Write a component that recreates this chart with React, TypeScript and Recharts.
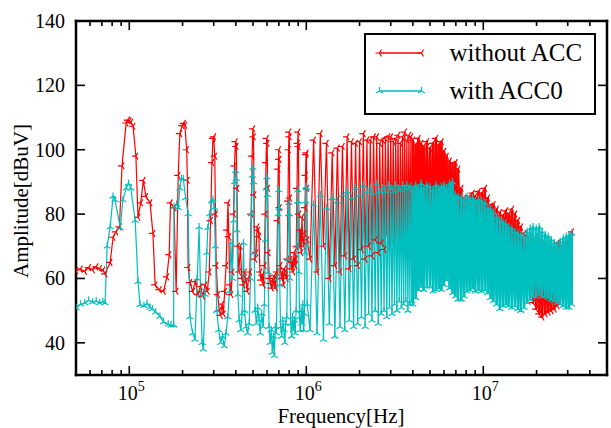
import React from 'react';
import { ComposedChart, Line, XAxis, YAxis, Legend } from 'recharts';

const RED = '#ff0000';
const CYAN = '#00bfbf';
const FONT = '"Liberation Serif", "Times New Roman", Times, serif';

// ---- "without ACC" (sparse part), frequency in kHz ----
const redFreqKHz = [
  50, 53, 56, 59, 62, 65, 68, 71, 73, 78, 81, 84, 88, 91, 96, 98, 100, 102, 105, 109,
  112, 116, 120, 124, 131, 136, 140, 148, 156, 163, 168, 171, 179, 184, 189, 193, 199, 203, 206, 211,
  213, 215, 220, 228, 236, 244, 252, 260, 268, 276, 283, 288, 293, 297, 300, 304, 307, 310, 316, 322,
  328, 334, 340, 346, 352, 357, 361, 365, 370, 376, 382, 388, 393, 398, 402, 406, 410, 416, 424, 432,
  440, 448, 456, 464, 472, 480, 488, 494, 499, 503, 507, 512, 520, 527, 533, 540, 547, 555, 563, 571,
  579, 586, 592, 597, 601, 605, 610, 618, 627, 636, 645, 654, 663, 672, 681, 688, 694, 699, 702, 706,
  712, 722, 732, 742, 752, 762, 772, 780, 788, 794, 799, 802, 806, 812, 822, 832, 842, 852, 862, 870,
  878, 886, 893, 899, 903, 908, 915, 925, 935, 945, 955, 965, 975, 983, 990, 996, 1001, 1006, 1012,
  1050, 1100, 1150, 1200, 1250, 1300, 1350, 1400, 1450, 1500, 1550, 1600, 1650, 1700, 1750, 1800,
  1850, 1900, 1950, 2000, 2050, 2100, 2150, 2200, 2250, 2300, 2350, 2400, 2450, 2500, 2550, 2600,
  2650, 2700, 2750, 2800, 2850, 2900, 2950, 3000, 3050, 3100, 3150, 3200, 3250, 3300, 3350, 3400,
  3450, 3500, 3550, 3600, 3650, 3700, 3750, 3800, 3850, 3900, 3950,
];
const redAmp = [
  62.4, 62.9, 62.2, 63.4, 62.7, 63.6, 63.1, 62.6, 61.4, 65, 72.8, 74.5, 76, 95, 108.3, 109.2, 109, 108.5, 107.3, 98,
  79, 83.5, 90.5, 85.5, 83.5, 74, 58, 56.5, 56, 60.5, 67.4, 83.5, 82, 56, 92, 105, 107.5, 108.2, 107.6, 100,
  90.5, 63.4, 58.7, 56, 59, 55, 57.5, 54.5, 58, 56, 62, 78, 96, 103.5, 104, 98, 80, 64, 55, 50,
  48.5, 52, 49, 56, 64, 75, 83.5, 73, 58, 55, 62, 80, 95, 102.5, 101, 88, 70, 62, 70, 60,
  58, 62, 59, 56, 60, 62, 80, 98, 106.5, 104, 86, 66, 68, 76, 75, 73, 62, 59.5, 61, 58,
  64, 80, 96, 103.5, 102, 88, 68, 60, 58.5, 57, 60, 58, 61, 57, 62, 78, 94, 100, 97, 82,
  64, 60, 62, 58, 63, 61, 60, 66, 84, 100, 105.5, 104, 85, 66, 63, 65, 62, 68, 64, 66,
  70, 88, 102, 105.5, 101, 80, 70, 75, 68, 79, 72, 70, 74, 82, 92, 98.5, 99, 88, 72,
  66, 103, 62, 105, 70, 102, 60, 99, 64, 100.5, 62, 101, 67, 104, 63, 102.5,
  66, 102, 64, 102.5, 69, 105, 66, 103, 70, 103, 67, 104, 72, 104, 68, 102,
  71, 103, 69, 103.5, 73, 104, 68, 104, 71, 102.5, 69, 103.5, 72, 104.5, 68, 102,
  71, 104, 69, 105.5, 70, 103, 68, 104.5, 70, 104, 69,
];

// ---- "with ACC0" (sparse part), frequency in kHz ----
const cyanFreqKHz = [
  50, 53, 56, 59, 62, 65, 68, 71, 73, 75, 78, 81, 83, 89, 92, 96, 99, 102, 108, 112,
  115, 121, 126, 131, 135, 141, 149, 156, 166, 172, 178, 179, 185, 189, 193, 197, 202, 208, 215, 220,
  228, 235, 242, 248, 253, 258, 262, 268, 274, 278, 285, 292, 297, 302, 306, 312, 320, 328, 336, 344,
  352, 360, 368, 375, 382, 389, 394, 399, 402, 406, 411, 418, 426, 434, 442, 448, 456, 466, 476, 484,
  490, 495, 499, 503, 508, 514, 523, 532, 541, 550, 560, 570, 580, 588, 594, 599, 603, 608, 616, 625,
  634, 643, 652, 660, 668, 677, 686, 693, 699, 703, 708, 716, 726, 736, 746, 756, 766, 776, 786, 794,
  799, 803, 808, 816, 826, 836, 846, 856, 866, 876, 886, 894, 899, 903, 908, 916, 926, 936, 946, 956,
  966, 976, 984, 992, 997, 1001, 1006, 1012,
  1050, 1100, 1150, 1200, 1250, 1300, 1350, 1400, 1450, 1500, 1550, 1600, 1650, 1700, 1750, 1800,
  1850, 1900, 1950, 2000, 2050, 2100, 2150, 2200, 2250, 2300, 2350, 2400, 2450, 2500, 2550, 2600,
  2650, 2700, 2750, 2800, 2850, 2900, 2950, 3000, 3050, 3100, 3150, 3200, 3250, 3300, 3350, 3400,
  3450, 3500, 3550, 3600, 3650, 3700, 3750, 3800, 3850, 3900, 3950,
];
const cyanAmp = [
  50.8, 52, 52.4, 53.2, 52.6, 53, 52.4, 52.8, 52.4, 70, 76, 85.5, 84.4, 75.7, 84.4, 88, 89.5, 88, 78, 59,
  51.8, 51.5, 52.2, 51, 50.5, 49.5, 48.2, 46.5, 45.8, 45.5, 45.5, 82.3, 83, 82, 88, 91, 91, 85, 80, 48,
  43, 41, 60, 76, 55, 40, 38, 55, 68, 75.7, 80, 84, 84.5, 82, 70, 50, 44, 40, 42, 39,
  43, 48, 56, 71, 60, 78, 90, 93.5, 91, 75, 55, 47, 44, 49, 71, 50, 45, 43, 46, 60,
  80, 92, 94.5, 90, 68, 50, 46, 51, 47, 43, 49, 45, 52, 72, 88, 91.5, 86, 62, 45, 40,
  44, 37, 42, 36, 45, 43, 60, 80, 87.5, 82, 58, 45, 42, 47, 44, 40, 46, 48, 66, 80,
  83.5, 80, 60, 46, 42, 48, 44, 47, 43, 50, 70, 84, 87.5, 84, 62, 48, 44, 50, 46, 52,
  44, 49, 68, 84, 88.5, 88, 70, 52,
  44, 83, 43, 86, 41, 82, 46, 85, 42, 84, 45, 86, 44, 87, 47, 85,
  45, 88, 46, 86, 48, 89, 45, 87, 49, 88, 47, 86.5, 50, 89.5, 46, 87,
  49, 88, 50, 87, 48, 89, 51, 88, 49, 87, 52, 89, 50, 88, 53, 87.5,
  51, 89, 52, 88, 53, 89, 50, 88, 52, 88.5, 53,
];

// ---- dense band above ~4 MHz: envelope of the spectrum, frequency in kHz ----
const denseFreqKHz = [
  4000, 4150, 4300, 4450, 4600, 4800, 5000, 5200, 5400, 5600, 5800, 6000, 6200, 6450, 6700, 6950,
  7200, 7500, 7800, 8100, 8400, 8700, 9000, 9400, 9800, 10200, 10600, 11000, 11400, 11900, 12400,
  12900, 13400, 13900, 14500, 15100, 15700, 16300, 17000, 17700, 18400, 19100, 19900, 20700, 21500,
  22400, 23300, 24200, 25200, 26200, 27200, 28300, 29400, 30500, 31600,
];
const redTop = [
  103, 101.5, 103.5, 102, 101, 102.5, 100.5, 102, 103.5, 101.5, 102.5, 99.5, 98, 96.5, 95.5, 96,
  94, 88, 85, 84.5, 85.5, 86.5, 85.5, 87, 86.5, 88, 85, 82.5, 83, 81.5, 80.5,
  79.5, 81, 80, 81.5, 80, 78, 76, 74, 73.5, 74, 73, 74, 72.5, 72,
  71.5, 70.5, 70, 69.5, 71, 70.5, 71.5, 72, 73, 74.5,
];
const redBottom = [
  68, 70, 69, 71, 68, 70, 69, 71, 68, 70, 69, 70, 68, 69, 70, 68,
  67, 68, 66, 68, 67, 68, 66, 67, 68, 66, 65, 66, 64, 65, 63,
  62, 63, 61, 62, 60, 59, 60, 58, 57, 56, 52.5, 50.5, 49, 48,
  49, 49.5, 50, 50.5, 51.5, 54, 55, 55, 55, 56,
];
const cyanTop = [
  87.5, 89, 88, 89.5, 88, 89, 88.5, 87.5, 89, 88, 88.5, 89, 88, 89.5, 90, 86,
  85.5, 85, 84.5, 85.5, 84.5, 85, 84, 84.5, 84, 83.5, 82, 81.5, 80.5, 79, 78,
  77.5, 77, 76, 75.5, 74.5, 74, 73.5, 73, 74.5, 75.5, 76, 75.5, 76, 74.5,
  73.5, 73, 72, 71, 70.5, 71.5, 72.5, 73, 73.5, 74,
];
const cyanBottom = [
  52, 54, 56.5, 57.5, 56.5, 57.5, 57.5, 56, 56.5, 57, 56.5, 58, 59.5, 57, 55.5, 54.5,
  53.5, 53.5, 54.5, 56, 56.5, 57, 56, 56.5, 56, 56.5, 55.5, 54, 53, 52, 50.5,
  51.5, 52, 51.5, 51, 51.5, 50.5, 50, 51, 52.5, 53.5, 54.5, 54.5, 55, 54.5,
  54.5, 54, 53.5, 53, 52.5, 52, 51.5, 51, 51, 52,
];

const xTicksHz = [
  60000, 70000, 80000, 90000, 100000, 200000, 300000, 400000, 500000, 600000, 700000, 800000, 900000,
  1000000, 2000000, 3000000, 4000000, 5000000, 6000000, 7000000, 8000000, 9000000,
  10000000, 20000000, 30000000, 40000000,
];
const yTicks = [40, 60, 80, 100, 120, 140];
const seriesNames = ['without ACC', 'with ACC0'];
const xTitle = 'Frequency[Hz]';
const yTitle = 'Amplitude[dBuV]';

// ---- tables built from the arrays ----
type Row = { f: number; v: number; m: boolean };
// m: whether the marker is visible (red marks lying inside the solid cyan band are covered in the original)
const buildLine = (
  freqs: number[],
  amps: number[],
  top: number[],
  bottom: number[],
  coverTop?: number[],
  coverBottom?: number[],
) => {
  const rows: Row[] = freqs.map((f, i) => ({
    f: f * 1000,
    v: amps[i],
    m: coverTop ? !(f >= 2800 && amps[i] < 85) : true,
  }));
  denseFreqKHz.forEach((f, i) => {
    const tVis = coverTop ? top[i] > coverTop[i] : true;
    const bVis = coverBottom ? bottom[i] < coverBottom[i] : true;
    rows.push({ f: f * 1000, v: top[i], m: tVis });
    rows.push({ f: f * 1000, v: bottom[i], m: bVis });
  });
  return rows;
};
// the dense part of each trace, walked in both directions so the band is filled
const buildFill = (top: number[], bottom: number[], topFirst: boolean) => {
  const rows: { f: number; v: number }[] = [];
  denseFreqKHz.forEach((f, i) => {
    const a = topFirst ? top[i] : bottom[i];
    const b = topFirst ? bottom[i] : top[i];
    rows.push({ f: f * 1000, v: a });
    rows.push({ f: f * 1000, v: b });
  });
  return rows;
};
const redLine = buildLine(redFreqKHz, redAmp, redTop, redBottom, cyanTop, cyanBottom);
const cyanLine = buildLine(cyanFreqKHz, cyanAmp, cyanTop, cyanBottom);
const redFillA = buildFill(redTop, redBottom, true);
const redFillB = buildFill(redTop, redBottom, false);
const cyanFillA = buildFill(cyanTop, cyanBottom, true);
const cyanFillB = buildFill(cyanTop, cyanBottom, false);

const Tri = ({ cx, cy, color, kind }: any) => {
  if (cx == null || cy == null || isNaN(cx) || isNaN(cy)) return null;
  const s = 4;
  const pts =
    kind === 'left'
      ? [[-s, 0], [s * 0.5, -s * 0.866], [s * 0.5, s * 0.866]]
      : [[0, -s], [-s * 0.866, s * 0.5], [s * 0.866, s * 0.5]];
  const d = pts.map(([dx, dy]) => `M${cx},${cy}L${cx + dx},${cy + dy}`).join('');
  return <path d={d} stroke={color} strokeWidth={1.2} fill="none" />;
};

const markerDot = (prefix: string, color: string, kind: string) => (p: any) => {
  if (p.payload && p.payload.m === false) return <g key={`${prefix}${p.index}`} />;
  return <Tri key={`${prefix}${p.index}`} cx={p.cx} cy={p.cy} color={color} kind={kind} />;
};

const isMajor = (v: number) => {
  const l = Math.log10(v);
  return Math.abs(l - Math.round(l)) < 1e-6;
};

const BottomTick = (props: any) => {
  const { x, y, payload } = props;
  const v = payload.value;
  const major = isMajor(v);
  const exp = Math.round(Math.log10(v));
  return (
    <g>
      <line x1={x} x2={x} y1={y} y2={y - (major ? 9 : 5)} stroke="#000" strokeWidth={1.6} />
      {major && (
        <text x={x + 2} y={y + 25} textAnchor="middle" fontFamily={FONT} fontSize={20} fill="#000">
          <tspan>10</tspan>
          <tspan dy={-9} fontSize={14}>{exp}</tspan>
        </text>
      )}
    </g>
  );
};
const TopTick = (props: any) => {
  const { x, y, payload } = props;
  const major = isMajor(payload.value);
  return <line x1={x} x2={x} y1={y} y2={y + (major ? 9 : 5)} stroke="#000" strokeWidth={1.6} />;
};
const LeftTick = (props: any) => {
  const { x, y, payload } = props;
  return (
    <g>
      <line x1={x} x2={x + 9} y1={y} y2={y} stroke="#000" strokeWidth={1.6} />
      <text x={x - 11} y={y} dy={7} textAnchor="end" fontFamily={FONT} fontSize={20} fill="#000">
        {payload.value}
      </text>
    </g>
  );
};
const RightTick = (props: any) => {
  const { x, y } = props;
  return <line x1={x - 9} x2={x} y1={y} y2={y} stroke="#000" strokeWidth={1.6} />;
};

const renderLegend = () => {
  const items = [
    { name: seriesNames[0], color: RED, kind: 'left' },
    { name: seriesNames[1], color: CYAN, kind: 'up' },
  ];
  return (
    <div
      style={{
        width: 232,
        height: 82,
        border: '2.5px solid #000',
        boxSizing: 'border-box',
        background: '#fff',
        position: 'relative',
      }}
    >
      {items.map((it, i) => (
        <div key={i} style={{ position: 'absolute', left: 0, top: i === 0 ? 1.5 : 39.5, width: '100%', height: 32 }}>
          <svg width={70} height={32} style={{ position: 'absolute', left: 0, top: 0 }}>
            <line x1={13.5} x2={55.5} y1={16} y2={16} stroke={it.color} strokeWidth={1.5} />
            <Tri cx={13.5} cy={16} color={it.color} kind={it.kind} />
            <Tri cx={55.5} cy={16} color={it.color} kind={it.kind} />
          </svg>
          <span
            style={{
              position: 'absolute',
              left: 83.5,
              top: 0,
              lineHeight: '32px',
              fontSize: 25,
              fontFamily: FONT,
              color: '#000',
              whiteSpace: 'nowrap',
            }}
          >
            {it.name}
          </span>
        </div>
      ))}
    </div>
  );
};

const axisLineStyle = { stroke: '#000', strokeWidth: 2.5, strokeLinecap: 'square' as const };

const fillLine = (key: string, data: any[], color: string) => (
  <Line
    key={key}
    xAxisId="b"
    yAxisId="l"
    data={data}
    dataKey="v"
    type="linear"
    stroke={color}
    strokeWidth={2.2}
    strokeLinejoin="round"
    isAnimationActive={false}
    dot={false}
    activeDot={false}
    legendType="none"
  />
);

export default function App() {
  return (
    <div style={{ width: 611, height: 428, background: '#fff', position: 'relative' }}>
      <style>{'body{margin:0;background:#fff;}'}</style>
      <ComposedChart width={611} height={428} margin={{ top: 20, right: 3, bottom: 0, left: 0 }}>
        <XAxis
          xAxisId="b"
          dataKey="f"
          type="number"
          scale="log"
          domain={[50000, 50000000]}
          allowDataOverflow
          ticks={xTicksHz}
          interval={0}
          height={53}
          tickSize={0}
          tickMargin={0}
          tickLine={false}
          axisLine={axisLineStyle}
          tick={<BottomTick />}
          label={() => (
            <text x={341} y={423} textAnchor="middle" fontFamily={FONT} fontSize={21} fill="#000">
              {xTitle}
            </text>
          )}
        />
        <XAxis
          xAxisId="t"
          orientation="top"
          dataKey="f"
          type="number"
          scale="log"
          domain={[50000, 50000000]}
          allowDataOverflow
          ticks={xTicksHz}
          interval={0}
          height={1}
          tickSize={0}
          tickMargin={0}
          tickLine={false}
          axisLine={axisLineStyle}
          tick={<TopTick />}
        />
        <YAxis
          yAxisId="l"
          type="number"
          domain={[30, 140]}
          allowDataOverflow
          ticks={yTicks}
          interval={0}
          width={76}
          tickSize={0}
          tickMargin={0}
          tickLine={false}
          axisLine={axisLineStyle}
          tick={<LeftTick />}
          label={() => (
            <text
              x={28}
              y={201}
              transform="rotate(-90 28 201)"
              textAnchor="middle"
              fontFamily={FONT}
              fontSize={21}
              fill="#000"
            >
              {yTitle}
            </text>
          )}
        />
        <YAxis
          yAxisId="r"
          orientation="right"
          type="number"
          domain={[30, 140]}
          allowDataOverflow
          ticks={yTicks}
          interval={0}
          width={1}
          tickSize={0}
          tickMargin={0}
          tickLine={false}
          axisLine={axisLineStyle}
          tick={<RightTick />}
        />
        <Legend
          layout="vertical"
          align="center"
          verticalAlign="middle"
          content={renderLegend}
          wrapperStyle={{ left: 364, top: 33, width: 232, height: 82 }}
        />
        {fillLine('rfa', redFillA, RED)}
        {fillLine('rfb', redFillB, RED)}
        <Line
          xAxisId="b"
          yAxisId="l"
          data={redLine}
          dataKey="v"
          name={seriesNames[0]}
          type="linear"
          stroke={RED}
          strokeWidth={1.2}
          isAnimationActive={false}
          dot={markerDot('r', RED, 'left')}
          activeDot={false}
        />
        {fillLine('cfa', cyanFillA, CYAN)}
        {fillLine('cfb', cyanFillB, CYAN)}
        <Line
          xAxisId="b"
          yAxisId="l"
          data={cyanLine}
          dataKey="v"
          name={seriesNames[1]}
          type="linear"
          stroke={CYAN}
          strokeWidth={1.2}
          isAnimationActive={false}
          dot={markerDot('c', CYAN, 'up')}
          activeDot={false}
        />
      </ComposedChart>
    </div>
  );
}
